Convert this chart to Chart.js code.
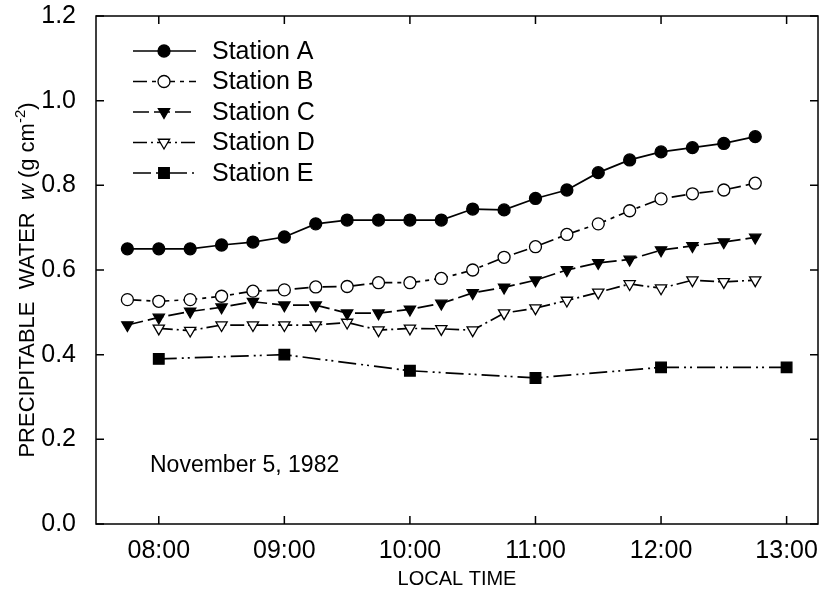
<!DOCTYPE html>
<html>
<head>
<meta charset="utf-8">
<script src="https://cdn.jsdelivr.net/npm/chart.js@4.4.0/dist/chart.umd.min.js"></script>
<style>
  html, body { margin: 0; padding: 0; background: #fff; }
  #wrap { width: 833px; height: 590px; }
</style>
</head>
<body>
<div id="wrap"><canvas id="pwChart"></canvas></div>
<script>
// Sounding times (decimal hours, local time)
const quarterHours = [7.75, 8, 8.25, 8.5, 8.75, 9, 9.25, 9.5, 9.75, 10, 10.25,
                      10.5, 10.75, 11, 11.25, 11.5, 11.75, 12, 12.25, 12.5, 12.75];
const hourlyTimes = [8, 9, 10, 11, 12, 13];

// Precipitable water (g cm-2)
const stationA = [0.65, 0.65, 0.65, 0.659, 0.666, 0.678, 0.709, 0.718, 0.718, 0.718, 0.718,
                  0.744, 0.742, 0.769, 0.789, 0.83, 0.86, 0.879, 0.889, 0.899, 0.915];
const stationB = [0.53, 0.526, 0.53, 0.538, 0.55, 0.553, 0.56, 0.561, 0.57, 0.57, 0.58,
                  0.60, 0.63, 0.655, 0.684, 0.709, 0.74, 0.768, 0.78, 0.789, 0.805];
const stationC = [0.47, 0.488, 0.502, 0.512, 0.525, 0.517, 0.517, 0.498, 0.498, 0.507, 0.521,
                  0.546, 0.559, 0.576, 0.60, 0.617, 0.625, 0.647, 0.657, 0.666, 0.677];
const stationD = [null, 0.462, 0.457, 0.47, 0.47, 0.47, 0.47, 0.476, 0.458, 0.462, 0.461,
                  0.458, 0.498, 0.51, 0.528, 0.547, 0.567, 0.557, 0.576, 0.572, 0.576];
const stationE = [0.39, 0.40, 0.362, 0.345, 0.37, 0.37];

// Axis ticks
const xTicks = [8, 9, 10, 11, 12, 13];
const xTickLabels = ['08:00', '09:00', '10:00', '11:00', '12:00', '13:00'];
const yTicks = [0, 0.2, 0.4, 0.6, 0.8, 1.0, 1.2];

const FONT = '"Liberation Sans", Arial, Helvetica, sans-serif';

function pairs(xs, ys) {
    return xs.map((x, i) => ({ x: x, y: ys[i] }));
}

function series(label, xs, ys, dash, style, filled, radius, rotation) {
    return {
        label: label,
        data: pairs(xs, ys),
        borderColor: '#000',
        borderWidth: 1.7,
        borderDash: dash,
        pointStyle: style,
        pointRotation: rotation || 0,
        pointRadius: radius,
        pointBorderWidth: 1.3,
        pointBorderColor: '#000',
        pointBackgroundColor: filled ? '#000' : '#fff',
        tension: 0,
        fill: false
    };
}

// Frame with inward ticks on all four sides, legend, note and axis titles
const paperFrame = {
    id: 'paperFrame',
    afterDatasetsDraw(chart) {
        const { ctx, chartArea: a, scales: { x, y } } = chart;
        ctx.save();
        ctx.strokeStyle = '#000';
        ctx.lineWidth = 1.5;
        ctx.strokeRect(a.left, a.top, a.right - a.left, a.bottom - a.top);
        ctx.beginPath();
        xTicks.forEach(v => {
            const px = x.getPixelForValue(v);
            ctx.moveTo(px, a.bottom); ctx.lineTo(px, a.bottom - 8);
            ctx.moveTo(px, a.top); ctx.lineTo(px, a.top + 8);
        });
        yTicks.forEach(v => {
            const py = y.getPixelForValue(v);
            ctx.moveTo(a.left, py); ctx.lineTo(a.left + 8, py);
            ctx.moveTo(a.right, py); ctx.lineTo(a.right - 8, py);
        });
        ctx.stroke();

        // legend
        ctx.fillStyle = '#000';
        ctx.font = '25px ' + FONT;
        ctx.textBaseline = 'middle';
        chart.data.datasets.forEach((ds, i) => {
            const ly = 51 + i * 30.5;
            ctx.save();
            ctx.lineWidth = ds.borderWidth;
            ctx.setLineDash(ds.borderDash || []);
            ctx.beginPath();
            ctx.moveTo(133, ly);
            ctx.lineTo(196, ly);
            ctx.stroke();
            ctx.setLineDash([]);
            ctx.lineWidth = ds.pointBorderWidth;
            ctx.fillStyle = ds.pointBackgroundColor;
            Chart.helpers.drawPoint(ctx, {
                pointStyle: ds.pointStyle,
                rotation: ds.pointRotation,
                radius: ds.pointRadius,
                borderWidth: ds.pointBorderWidth
            }, 164, ly);
            ctx.restore();
            ctx.fillText(ds.label, 212, ly + 1);
        });

        // date note
        ctx.textBaseline = 'alphabetic';
        ctx.font = '23px ' + FONT;
        ctx.fillText('November 5, 1982', 150, 472);

        // x title
        ctx.font = '20px ' + FONT;
        ctx.textAlign = 'center';
        ctx.fillText('LOCAL TIME', (a.left + a.right) / 2, 585);

        // y title with italic w and superscript
        ctx.save();
        ctx.translate(34, 280);
        ctx.rotate(-Math.PI / 2);
        ctx.textAlign = 'left';
        const parts = [
            { t: 'PRECIPITABLE  WATER  ', f: '22px ' + FONT, dy: 0 },
            { t: 'w', f: 'italic 22px ' + FONT, dy: 0 },
            { t: ' (g cm', f: '22px ' + FONT, dy: 0 },
            { t: '-2', f: '15px ' + FONT, dy: -9 },
            { t: ')', f: '22px ' + FONT, dy: 0 }
        ];
        let total = 0;
        parts.forEach(p => { ctx.font = p.f; total += ctx.measureText(p.t).width; });
        let cx = -total / 2;
        parts.forEach(p => {
            ctx.font = p.f;
            ctx.fillText(p.t, cx, p.dy);
            cx += ctx.measureText(p.t).width;
        });
        ctx.restore();
        ctx.restore();
    }
};

new Chart(document.getElementById('pwChart'), {
    type: 'line',
    data: {
        datasets: [
            series('Station A', quarterHours, stationA, [], 'circle', true, 6),
            series('Station B', quarterHours, stationB, [14, 5, 4, 5], 'circle', false, 6),
            series('Station C', quarterHours, stationC, [16, 5], 'triangle', true, 6.5, 180),
            series('Station D', quarterHours, stationD, [14, 4, 2, 4], 'triangle', false, 6.5, 180),
            series('Station E', hourlyTimes, stationE, [18, 5, 2, 4, 2, 5], 'rect', true, 7.5)
        ]
    },
    options: {
        responsive: true,
        maintainAspectRatio: false,
        animation: false,
        layout: { padding: { top: 16, right: 15, left: 0, bottom: 0 } },
        plugins: {
            legend: { display: false },
            tooltip: { enabled: false }
        },
        scales: {
            x: {
                type: 'linear',
                min: 7.5,
                max: 13.25,
                afterBuildTicks: s => { s.ticks = xTicks.map(v => ({ value: v })); },
                afterFit: s => { s.height = 66; s.paddingLeft = 0; s.paddingRight = 0; },
                grid: { display: false },
                border: { display: false },
                ticks: {
                    color: '#000',
                    padding: 4,
                    maxRotation: 0,
                    autoSkip: false,
                    font: { family: FONT, size: 25 },
                    callback: v => xTickLabels[xTicks.indexOf(v)]
                }
            },
            y: {
                min: 0,
                max: 1.2,
                afterBuildTicks: s => { s.ticks = yTicks.map(v => ({ value: v })); },
                afterFit: s => { s.width = 96; s.paddingTop = 0; s.paddingBottom = 0; },
                grid: { display: false },
                border: { display: false },
                ticks: {
                    color: '#000',
                    padding: 12,
                    font: { family: FONT, size: 25 },
                    callback: v => v.toFixed(1)
                }
            }
        }
    },
    plugins: [paperFrame]
});
</script>
</body>
</html>
